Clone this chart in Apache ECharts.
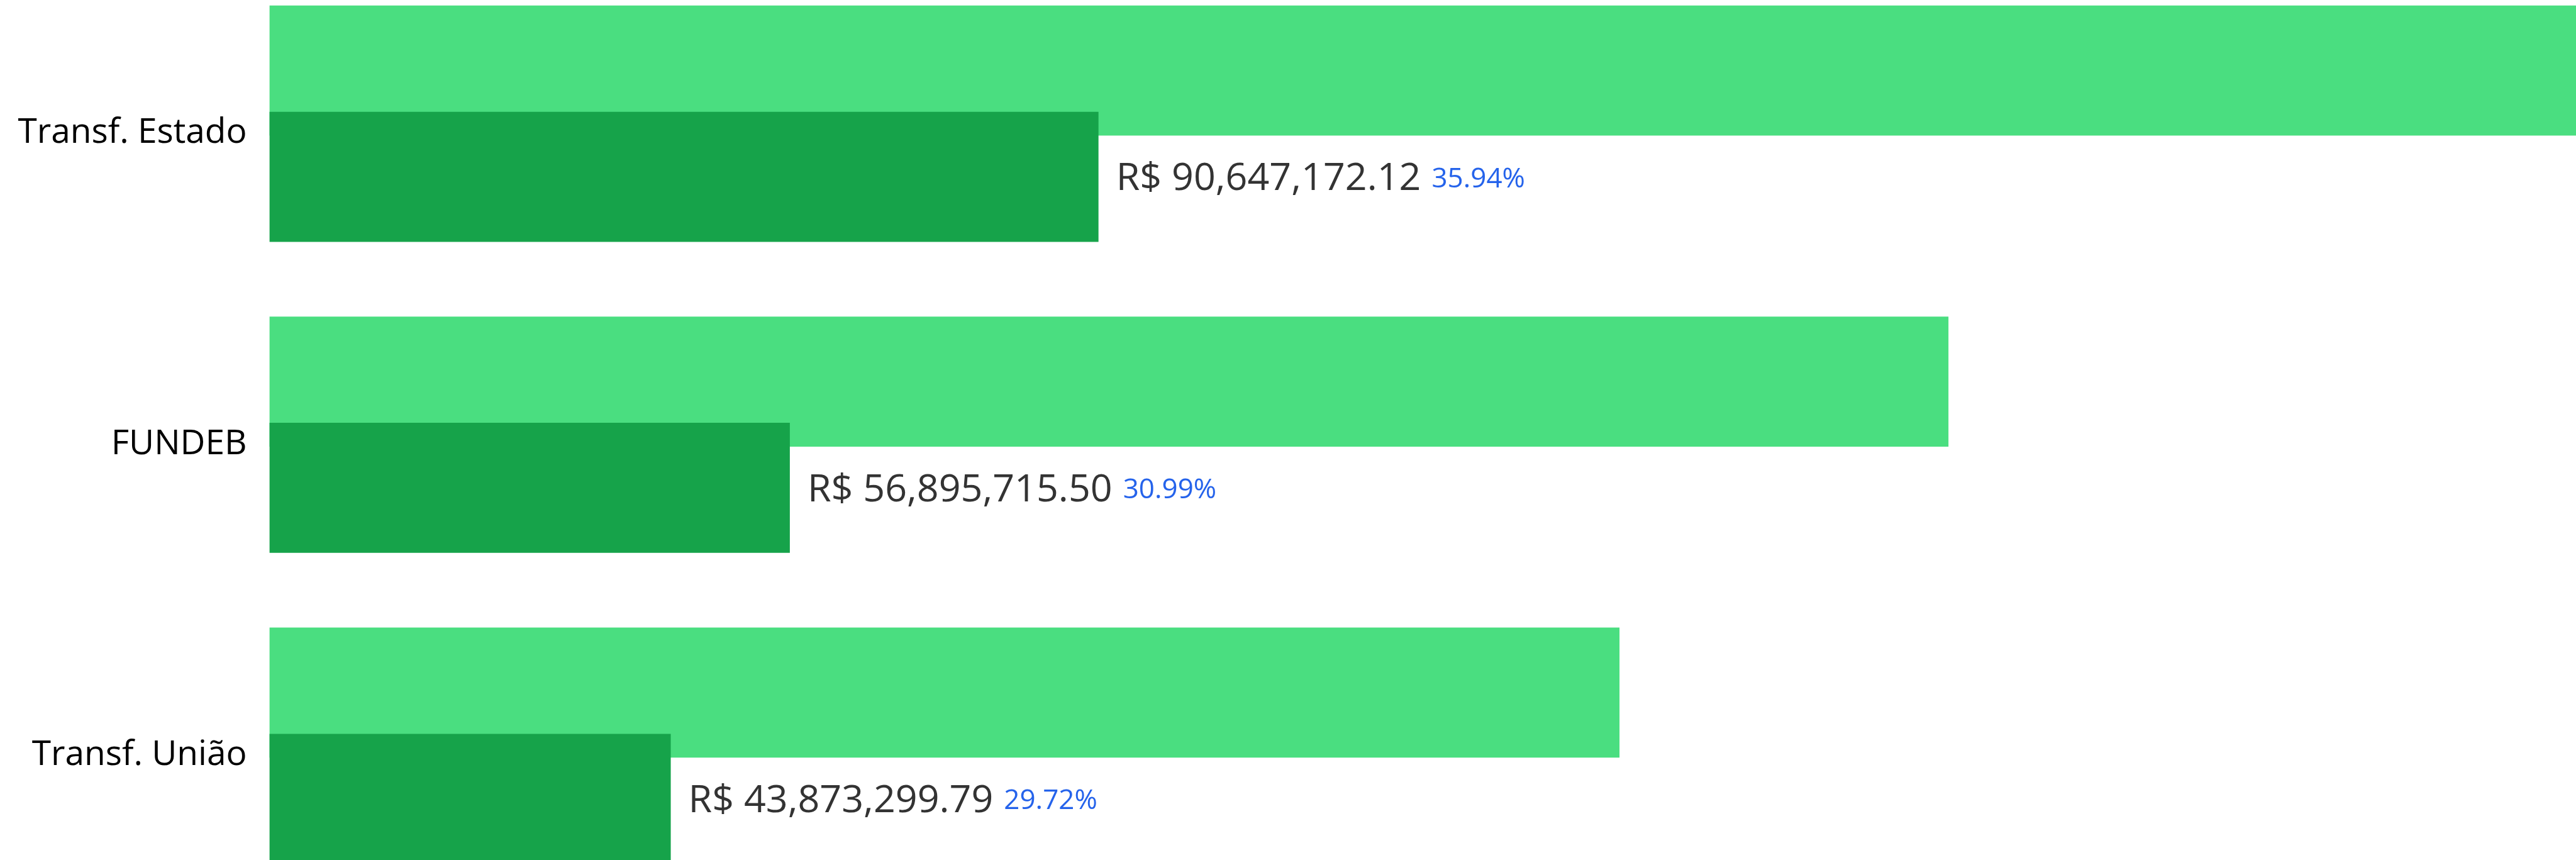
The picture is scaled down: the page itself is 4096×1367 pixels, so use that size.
<!DOCTYPE html>
<html>
<head>
<meta charset="utf-8">
<script src="https://cdn.jsdelivr.net/npm/echarts@6/dist/echarts.min.js"></script>
<style>
  html, body { margin: 0; padding: 0; background: #fff; }
  #chart { width: 4096px; height: 1367px; }
</style>
</head>
<body>
<div id="chart"></div>
<script>
// receitas: previsto x realizado
const categorias = ['Transf. Estado', 'FUNDEB', 'Transf. União'];
const previsto = [252218064, 183593790, 147621466];
const realizado = [90647172.12, 56895715.50, 43873299.79];
const percentuais = ['35.94%', '30.99%', '29.72%'];

const fonte = '"Open Sans", "Noto Sans", sans-serif';

function moeda(v) {
  return 'R$ ' + v.toLocaleString('en-US', { minimumFractionDigits: 2, maximumFractionDigits: 2 });
}

const chart = echarts.init(document.getElementById('chart'), null, { renderer: 'canvas' });

const option = {
  animation: false,
  grid: {
    left: 428.6,
    right: 0,
    top: -50.6,
    height: 1483.2,
    outerBoundsMode: 'none'
  },
  xAxis: {
    type: 'value',
    min: 0,
    max: 'dataMax',
    show: false
  },
  yAxis: {
    type: 'category',
    data: categorias,
    inverse: true,
    axisLine: { show: false },
    axisTick: { show: false },
    axisLabel: {
      margin: 36,
      formatter: function (v) {
        return '{c|' + v + '}';
      },
      rich: {
        c: { color: '#000', fontFamily: fonte, fontSize: 55, padding: [30, 0, 0, 0] }
      }
    }
  },
  series: [
    {
      name: 'Previsto',
      type: 'bar',
      data: previsto,
      barWidth: 206.7,
      barGap: '-18.3%',
      itemStyle: { color: '#4ade80' },
      silent: true
    },
    {
      name: 'Realizado',
      type: 'bar',
      data: realizado,
      barWidth: 206.7,
      itemStyle: { color: '#16a34a' },
      label: {
        show: true,
        position: 'right',
        distance: 28,
        offset: [0, 4],
        formatter: function (p) {
          return '{v|' + moeda(p.value) + '}{p|' + percentuais[p.dataIndex] + '}';
        },
        rich: {
          v: { color: '#333', fontFamily: fonte, fontSize: 61 },
          p: { color: '#2563eb', fontFamily: fonte, fontSize: 44, padding: [0, 0, 0, 17] }
        }
      },
      silent: true
    }
  ]
};

chart.setOption(option);
</script>
</body>
</html>
